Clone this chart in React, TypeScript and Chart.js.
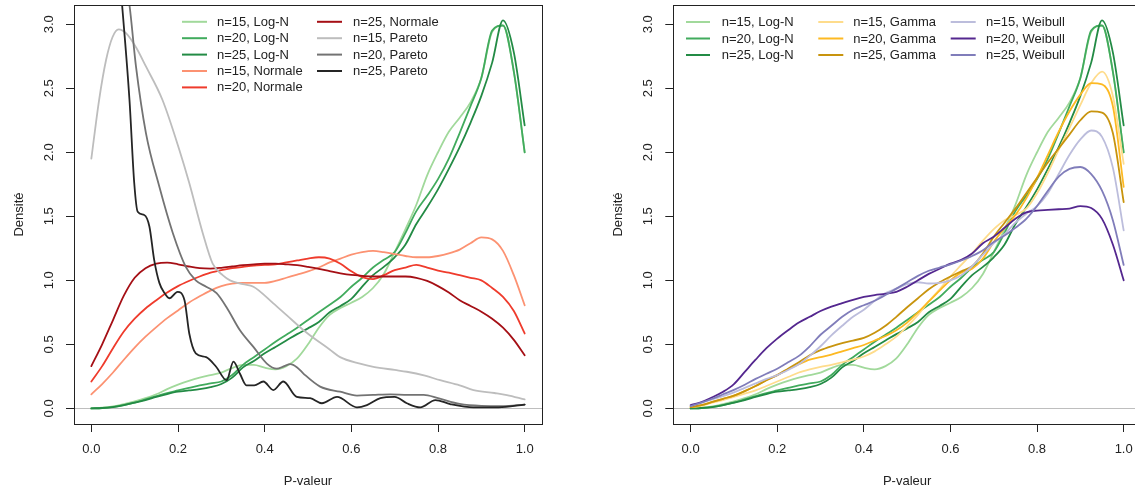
import { useEffect, useRef } from 'react';
import { Chart, registerables } from 'chart.js';
import type { ChartConfiguration, Plugin } from 'chart.js';

Chart.register(...registerables);

const FONT = '"Liberation Sans", Arial, Helvetica, sans-serif';
const INK = '#222222';
const ZERO_LINE = '#bebebe';

// p-values on which the smooth density curves are tabulated
const pGrid = [
  0, 0.025, 0.05, 0.075, 0.1, 0.125, 0.15, 0.175, 0.2, 0.225, 0.25, 0.275, 0.3, 0.325,
  0.35, 0.375, 0.4, 0.425, 0.45, 0.475, 0.5, 0.525, 0.55, 0.575, 0.6, 0.625, 0.65, 0.675,
  0.7, 0.725, 0.75, 0.775, 0.8, 0.825, 0.85, 0.875, 0.9, 0.925, 0.95, 0.975, 1,
];

// Log-normal alternative
const logN15 = [0, 0.005, 0.015, 0.033, 0.055, 0.08, 0.11, 0.15, 0.185, 0.215, 0.24, 0.26, 0.28, 0.315, 0.34, 0.34, 0.318, 0.305, 0.33, 0.39, 0.5, 0.63, 0.73, 0.785, 0.825, 0.87, 0.94, 1.05, 1.22, 1.4, 1.59, 1.82, 2.0, 2.16, 2.27, 2.39, 2.58, 2.94, 2.99, 2.63, 2.0];
const logN20 = [0, 0.003, 0.012, 0.026, 0.045, 0.07, 0.095, 0.12, 0.14, 0.16, 0.18, 0.195, 0.21, 0.26, 0.34, 0.4, 0.46, 0.52, 0.575, 0.63, 0.69, 0.75, 0.81, 0.87, 0.95, 1.02, 1.1, 1.16, 1.22, 1.37, 1.54, 1.66, 1.79, 1.95, 2.15, 2.36, 2.58, 2.95, 2.99, 2.63, 2.0];
const logN25 = [0, 0.003, 0.01, 0.025, 0.045, 0.065, 0.09, 0.112, 0.13, 0.14, 0.15, 0.165, 0.19, 0.24, 0.32, 0.37, 0.43, 0.48, 0.53, 0.58, 0.625, 0.675, 0.75, 0.8, 0.855, 0.95, 1.04, 1.105, 1.18, 1.28, 1.44, 1.57, 1.71, 1.87, 2.04, 2.23, 2.44, 2.7, 3.03, 2.78, 2.21];

// Normal alternative
const normal15 = [0.11, 0.19, 0.28, 0.38, 0.475, 0.56, 0.635, 0.705, 0.765, 0.825, 0.875, 0.92, 0.955, 0.975, 0.98, 0.98, 0.98, 0.995, 1.02, 1.045, 1.07, 1.1, 1.14, 1.17, 1.2, 1.22, 1.23, 1.22, 1.205, 1.19, 1.18, 1.18, 1.19, 1.21, 1.24, 1.29, 1.335, 1.32, 1.23, 1.04, 0.805];
const normal20 = [0.21, 0.33, 0.47, 0.6, 0.7, 0.78, 0.845, 0.905, 0.955, 0.995, 1.03, 1.06, 1.08, 1.095, 1.105, 1.115, 1.12, 1.125, 1.14, 1.155, 1.17, 1.18, 1.17, 1.13, 1.07, 1.025, 1.01, 1.04, 1.08, 1.1, 1.12, 1.1, 1.075, 1.06, 1.04, 1.02, 1.0, 0.94, 0.87, 0.76, 0.585];
const normal25 = [0.33, 0.5, 0.69, 0.88, 1.02, 1.095, 1.13, 1.138, 1.125, 1.108, 1.095, 1.092, 1.098, 1.108, 1.118, 1.125, 1.13, 1.13, 1.125, 1.118, 1.105, 1.09, 1.072, 1.055, 1.042, 1.035, 1.03, 1.03, 1.03, 1.03, 1.02, 0.995, 0.955, 0.905, 0.845, 0.8, 0.755, 0.7, 0.63, 0.535, 0.415];

// Pareto alternative (tabulated on their own p-values, the curves are wiggly)
const pareto15X = [0, 0.018, 0.034, 0.049, 0.063, 0.08, 0.103, 0.126, 0.164, 0.203, 0.226, 0.257, 0.28, 0.303, 0.32, 0.35, 0.374, 0.42, 0.45, 0.497, 0.55, 0.574, 0.62, 0.651, 0.7, 0.728, 0.77, 0.805, 0.85, 0.882, 0.93, 0.959, 1];
const pareto15Y = [1.95, 2.41, 2.72, 2.9, 2.96, 2.93, 2.82, 2.67, 2.41, 2.02, 1.76, 1.37, 1.13, 1.04, 1.0, 0.97, 0.95, 0.82, 0.73, 0.59, 0.46, 0.4, 0.35, 0.325, 0.3, 0.286, 0.255, 0.22, 0.18, 0.143, 0.12, 0.104, 0.07];
const pareto20X = [0, 0.04, 0.07, 0.088, 0.103, 0.126, 0.157, 0.188, 0.218, 0.241, 0.265, 0.289, 0.312, 0.343, 0.374, 0.405, 0.428, 0.445, 0.459, 0.475, 0.49, 0.528, 0.574, 0.613, 0.65, 0.69, 0.73, 0.767, 0.8, 0.85, 0.9, 0.95, 1];
const pareto20Y = [4.6, 4.0, 3.5, 3.15, 2.67, 2.15, 1.73, 1.37, 1.105, 1.0, 0.95, 0.9, 0.79, 0.61, 0.48, 0.35, 0.31, 0.33, 0.345, 0.32, 0.27, 0.17, 0.13, 0.1, 0.105, 0.11, 0.105, 0.105, 0.08, 0.035, 0.02, 0.018, 0.03];
const pareto25X = [0, 0.04, 0.071, 0.088, 0.099, 0.107, 0.122, 0.134, 0.145, 0.157, 0.169, 0.18, 0.199, 0.215, 0.226, 0.241, 0.265, 0.288, 0.312, 0.328, 0.343, 0.358, 0.376, 0.397, 0.42, 0.443, 0.474, 0.505, 0.532, 0.567, 0.613, 0.636, 0.667, 0.7, 0.728, 0.759, 0.794, 0.828, 0.882, 0.94, 1];
const pareto25Y = [6.0, 4.4, 3.15, 2.41, 1.76, 1.535, 1.51, 1.42, 1.16, 0.98, 0.9, 0.86, 0.91, 0.845, 0.585, 0.43, 0.4, 0.325, 0.22, 0.365, 0.27, 0.18, 0.18, 0.21, 0.143, 0.21, 0.09, 0.08, 0.04, 0.09, 0.008, 0.026, 0.08, 0.09, 0.04, 0.008, 0.065, 0.034, 0.008, 0.008, 0.03];

// Gamma alternative
const gamma15 = [0.01, 0.02, 0.045, 0.065, 0.09, 0.115, 0.14, 0.175, 0.21, 0.245, 0.28, 0.305, 0.325, 0.34, 0.36, 0.38, 0.405, 0.445, 0.5, 0.56, 0.64, 0.73, 0.835, 0.93, 1.03, 1.12, 1.21, 1.31, 1.4, 1.47, 1.51, 1.56, 1.68, 1.84, 2.02, 2.19, 2.37, 2.54, 2.63, 2.44, 1.91];
const gamma20 = [0.01, 0.025, 0.05, 0.075, 0.1, 0.135, 0.175, 0.22, 0.26, 0.305, 0.345, 0.38, 0.4, 0.42, 0.445, 0.47, 0.495, 0.53, 0.565, 0.61, 0.67, 0.75, 0.835, 0.92, 1.0, 1.06, 1.09, 1.17, 1.3, 1.41, 1.51, 1.64, 1.8, 1.98, 2.16, 2.32, 2.45, 2.54, 2.53, 2.36, 1.73];
const gamma25 = [0.01, 0.025, 0.05, 0.075, 0.1, 0.135, 0.175, 0.22, 0.26, 0.31, 0.36, 0.415, 0.455, 0.485, 0.51, 0.53, 0.55, 0.59, 0.645, 0.715, 0.79, 0.86, 0.93, 0.985, 1.03, 1.07, 1.11, 1.21, 1.34, 1.45, 1.56, 1.68, 1.8, 1.92, 2.03, 2.14, 2.25, 2.32, 2.31, 2.15, 1.61];

// Weibull alternative
const weibull15 = [0.02, 0.045, 0.07, 0.095, 0.125, 0.16, 0.195, 0.23, 0.26, 0.3, 0.345, 0.41, 0.485, 0.57, 0.645, 0.715, 0.77, 0.84, 0.9, 0.935, 0.97, 0.985, 0.975, 0.98, 1.0, 1.04, 1.11, 1.2, 1.29, 1.36, 1.45, 1.52, 1.58, 1.68, 1.83, 1.98, 2.1, 2.17, 2.12, 1.88, 1.39];
const weibull20 = [0.026, 0.05, 0.087, 0.13, 0.19, 0.285, 0.38, 0.47, 0.545, 0.61, 0.67, 0.715, 0.76, 0.795, 0.822, 0.848, 0.87, 0.885, 0.895, 0.91, 0.95, 1.0, 1.05, 1.09, 1.13, 1.16, 1.21, 1.29, 1.34, 1.41, 1.48, 1.53, 1.545, 1.55, 1.555, 1.56, 1.58, 1.565, 1.48, 1.28, 1.0];
const weibull25 = [0.018, 0.045, 0.075, 0.11, 0.145, 0.185, 0.23, 0.27, 0.31, 0.36, 0.41, 0.485, 0.575, 0.645, 0.715, 0.77, 0.805, 0.84, 0.885, 0.935, 0.985, 1.035, 1.075, 1.1, 1.125, 1.155, 1.19, 1.235, 1.3, 1.35, 1.41, 1.48, 1.58, 1.7, 1.81, 1.87, 1.885, 1.83, 1.7, 1.47, 1.12];

const yTickValues = [0, 0.5, 1, 1.5, 2, 2.5, 3];
const yTickLabels = ['0.0', '0.5', '1.0', '1.5', '2.0', '2.5', '3.0'];

const COLORS = {
  logN15: '#a1d99b', logN20: '#41ab5d', logN25: '#238b45',
  normal15: '#fc9272', normal20: '#ef3b2c', normal25: '#a50f15',
  pareto15: '#bdbdbd', pareto20: '#737373', pareto25: '#252525',
  gamma15: '#fedc8c', gamma20: '#fdb922', gamma25: '#c8940e',
  weibull15: '#bcbddc', weibull20: '#54278f', weibull25: '#807dba',
};

type Series = { label: string; xs: number[]; ys: number[]; color: string };

const logNSeries: Series[] = [
  { label: 'n=15, Log-N', xs: pGrid, ys: logN15, color: COLORS.logN15 },
  { label: 'n=20, Log-N', xs: pGrid, ys: logN20, color: COLORS.logN20 },
  { label: 'n=25, Log-N', xs: pGrid, ys: logN25, color: COLORS.logN25 },
];

const leftSeries: Series[] = [
  ...logNSeries,
  { label: 'n=15, Normale', xs: pGrid, ys: normal15, color: COLORS.normal15 },
  { label: 'n=20, Normale', xs: pGrid, ys: normal20, color: COLORS.normal20 },
  { label: 'n=25, Normale', xs: pGrid, ys: normal25, color: COLORS.normal25 },
  { label: 'n=15, Pareto', xs: pareto15X, ys: pareto15Y, color: COLORS.pareto15 },
  { label: 'n=20, Pareto', xs: pareto20X, ys: pareto20Y, color: COLORS.pareto20 },
  { label: 'n=25, Pareto', xs: pareto25X, ys: pareto25Y, color: COLORS.pareto25 },
];

const rightSeries: Series[] = [
  ...logNSeries,
  { label: 'n=15, Gamma', xs: pGrid, ys: gamma15, color: COLORS.gamma15 },
  { label: 'n=20, Gamma', xs: pGrid, ys: gamma20, color: COLORS.gamma20 },
  { label: 'n=25, Gamma', xs: pGrid, ys: gamma25, color: COLORS.gamma25 },
  { label: 'n=15, Weibull', xs: pGrid, ys: weibull15, color: COLORS.weibull15 },
  { label: 'n=20, Weibull', xs: pGrid, ys: weibull20, color: COLORS.weibull20 },
  { label: 'n=25, Weibull', xs: pGrid, ys: weibull25, color: COLORS.weibull25 },
];

type LegendColumn = { x1: number; x2: number; tx: number };
type LegendLayout = { columns: LegendColumn[]; rows: number; y0: number; dy: number };
type Frame = { width: number; padLeft: number; padRight: number; padTop: number; yWidth: number; xHeight: number };

const HEIGHT = 491;

const leftFrame: Frame = { width: 567, padLeft: 0, padRight: 25, padTop: 5, yWidth: 74, xHeight: 67 };
const rightFrame: Frame = { width: 580, padLeft: 32.3, padRight: 6, padTop: 5, yWidth: 74, xHeight: 67 };

const leftLegend: LegendLayout = {
  columns: [
    { x1: 182, x2: 207, tx: 217 },
    { x1: 317, x2: 342, tx: 353 },
  ],
  rows: 5,
  y0: 21.8,
  dy: 16.4,
};

const rightLegend: LegendLayout = {
  columns: [
    { x1: 119, x2: 143, tx: 154.7 },
    { x1: 251.3, x2: 276.3, tx: 286.3 },
    { x1: 383.7, x2: 408.7, tx: 419 },
  ],
  rows: 3,
  y0: 22,
  dy: 16.5,
};

function framePlugin(series: Series[], legend: LegendLayout): Plugin<'line'> {
  return {
    id: 'rFrame',
    beforeDatasetsDraw(chart) {
      const { ctx, chartArea: a } = chart;
      const y0 = Math.round(chart.scales.y.getPixelForValue(0)) + 0.5;
      ctx.save();
      ctx.strokeStyle = ZERO_LINE;
      ctx.lineWidth = 1;
      ctx.beginPath();
      ctx.moveTo(a.left, y0);
      ctx.lineTo(a.right, y0);
      ctx.stroke();
      ctx.restore();
    },
    afterDraw(chart) {
      const { ctx, chartArea: a } = chart;
      const yScale = chart.scales.y;
      ctx.save();

      // plot box
      ctx.strokeStyle = INK;
      ctx.lineWidth = 1;
      const l = Math.round(a.left) + 0.5;
      const t = Math.round(a.top) + 0.5;
      ctx.strokeRect(l, t, Math.round(a.right) - Math.round(a.left), Math.round(a.bottom) - Math.round(a.top));

      // vertical density tick labels
      ctx.fillStyle = INK;
      ctx.font = `13px ${FONT}`;
      ctx.textAlign = 'center';
      ctx.textBaseline = 'middle';
      yTickValues.forEach((v, i) => {
        const y = yScale.getPixelForValue(v);
        ctx.save();
        ctx.translate(a.left - 25, y);
        ctx.rotate(-Math.PI / 2);
        ctx.fillText(yTickLabels[i], 0, 0);
        ctx.restore();
      });

      // legend, filled column by column
      ctx.textAlign = 'left';
      ctx.lineWidth = 2;
      series.forEach((s, i) => {
        const col = legend.columns[Math.floor(i / legend.rows)];
        const y = legend.y0 + (i % legend.rows) * legend.dy;
        ctx.strokeStyle = s.color;
        ctx.beginPath();
        ctx.moveTo(col.x1, y);
        ctx.lineTo(col.x2, y);
        ctx.stroke();
        ctx.fillStyle = INK;
        ctx.fillText(s.label, col.tx, y + 0.5);
      });
      ctx.restore();
    },
  };
}

function buildConfig(series: Series[], legend: LegendLayout, frame: Frame): ChartConfiguration<'line'> {
  return {
    type: 'line',
    data: {
      datasets: series.map((s, i) => ({
        label: s.label,
        data: s.xs.map((x, k) => ({ x, y: s.ys[k] })),
        borderColor: s.color,
        backgroundColor: s.color,
        borderWidth: 1.8,
        pointRadius: 0,
        pointHoverRadius: 0,
        fill: false,
        cubicInterpolationMode: 'monotone',
        borderJoinStyle: 'round',
        borderCapStyle: 'round',
        order: -i,
      })),
    },
    options: {
      responsive: false,
      animation: false,
      events: [],
      layout: {
        padding: { left: frame.padLeft, right: frame.padRight, top: frame.padTop, bottom: 0 },
      },
      plugins: {
        legend: { display: false },
        tooltip: { enabled: false },
        title: { display: false },
      },
      scales: {
        x: {
          type: 'linear',
          min: -0.04,
          max: 1.04,
          border: { display: false },
          grid: { drawOnChartArea: false, drawTicks: true, tickLength: 8, color: INK, lineWidth: 1 },
          ticks: {
            stepSize: 0.2,
            includeBounds: false,
            autoSkip: false,
            maxRotation: 0,
            minRotation: 0,
            padding: 10,
            color: INK,
            font: { family: FONT, size: 13 },
            callback: (v) => Number(v).toFixed(1),
          },
          title: {
            display: true,
            text: 'P-valeur',
            color: INK,
            font: { family: FONT, size: 13, lineHeight: 1.2 },
            padding: { top: 0, bottom: 2 },
          },
          afterFit: (scale) => {
            scale.height = frame.xHeight;
          },
        },
        y: {
          type: 'linear',
          min: -0.122,
          max: 3.15,
          border: { display: false },
          grid: { drawOnChartArea: false, drawTicks: true, tickLength: 8, color: INK, lineWidth: 1 },
          ticks: {
            stepSize: 0.5,
            includeBounds: false,
            display: false,
          },
          title: {
            display: true,
            text: 'Densité',
            color: INK,
            font: { family: FONT, size: 13, lineHeight: 1.2 },
            padding: { top: 11.2, bottom: 0 },
          },
          afterFit: (scale) => {
            scale.width = frame.yWidth;
          },
        },
      },
    },
    plugins: [framePlugin(series, legend)],
  };
}

function DensityPanel({ series, legend, frame, left }: { series: Series[]; legend: LegendLayout; frame: Frame; left: number }) {
  const ref = useRef<HTMLCanvasElement>(null);
  useEffect(() => {
    if (!ref.current) return;
    const chart = new Chart(ref.current, buildConfig(series, legend, frame));
    return () => chart.destroy();
  }, [series, legend, frame]);
  return (
    <canvas
      ref={ref}
      width={frame.width}
      height={HEIGHT}
      style={{ position: 'absolute', left, top: 0, width: frame.width, height: HEIGHT, display: 'block' }}
    />
  );
}

export default function App() {
  return (
    <div
      style={{
        position: 'absolute',
        left: 0,
        top: 0,
        width: 1135,
        height: HEIGHT,
        overflow: 'hidden',
        background: '#ffffff',
      }}
    >
      <DensityPanel series={leftSeries} legend={leftLegend} frame={leftFrame} left={0} />
      <DensityPanel series={rightSeries} legend={rightLegend} frame={rightFrame} left={567} />
    </div>
  );
}
